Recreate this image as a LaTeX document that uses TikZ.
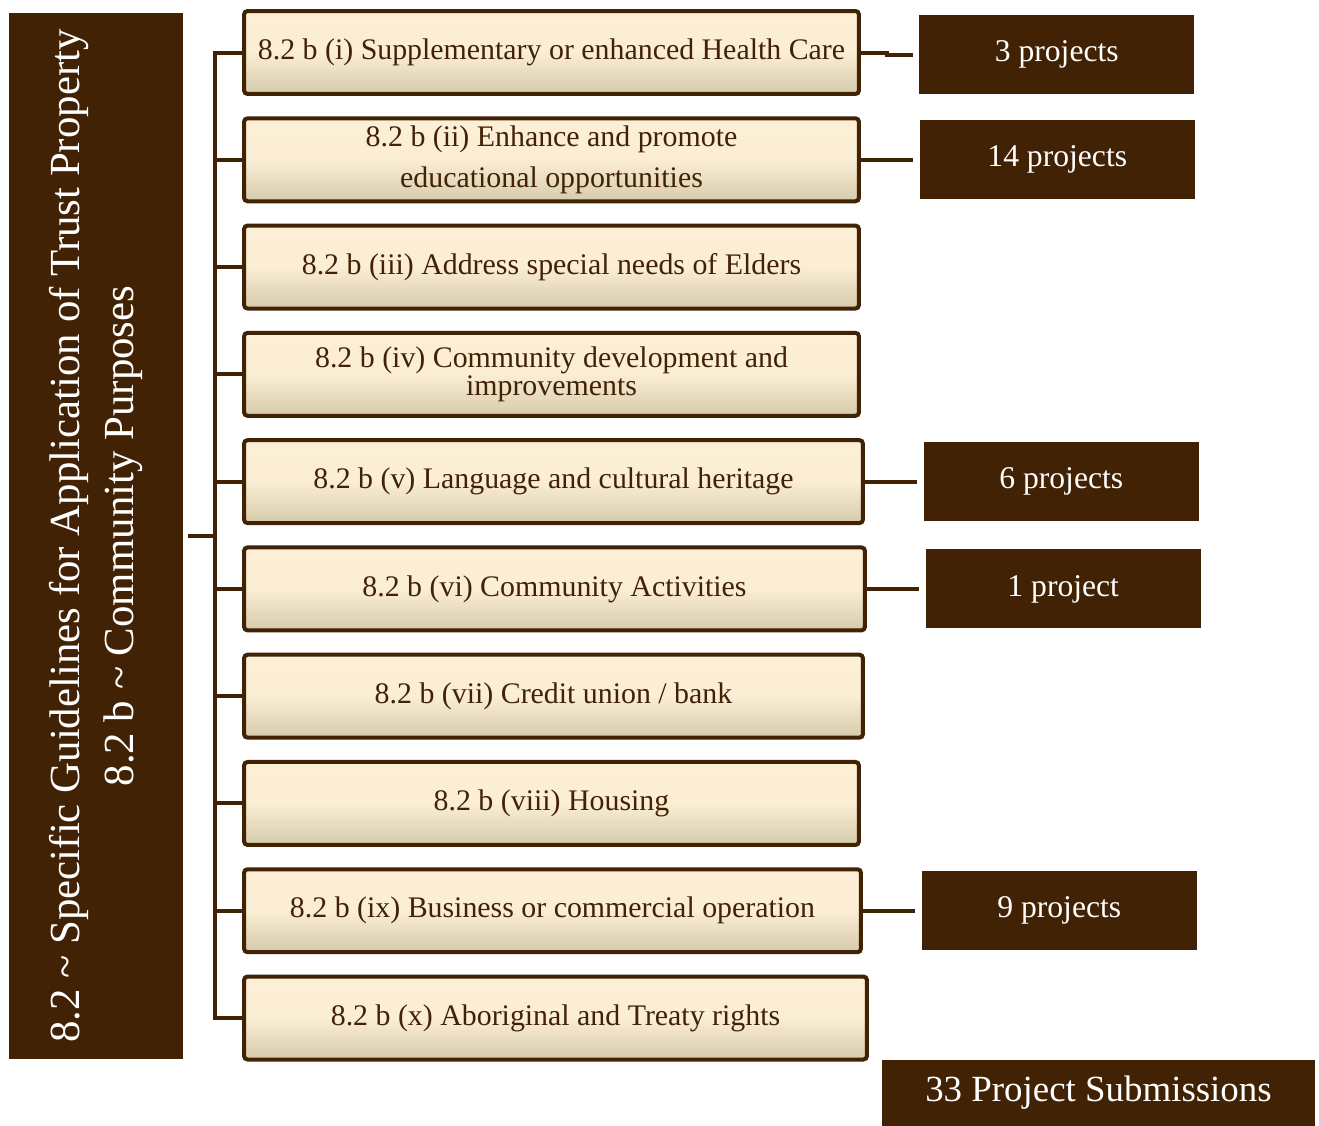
\documentclass[tikz,border=0pt]{standalone}
\usepackage{fontspec}
\setmainfont{Liberation Serif}
\usetikzlibrary{positioning}
\definecolor{bark}{RGB}{66,34,4}
\definecolor{cream}{RGB}{252,239,214}
\definecolor{sand}{RGB}{214,202,172}
\tikzset{
  guide/.style={draw=bark, line width=0.08cm, rounded corners=2pt, top color=cream, bottom color=sand, middle color=cream!96!sand,
    minimum width=12.3cm, minimum height=1.66cm, text=bark, align=center, font=\fontsize{17}{20}\selectfont},
  count/.style={fill=bark, text=white, minimum width=5.5cm, minimum height=1.58cm, font=\fontsize{18}{22}\selectfont},
  link/.style={draw=bark, line width=0.08cm},
}

\begin{document}
\begin{tikzpicture}[x=0.02cm, y=-0.02cm]
  \useasboundingbox (0,0) rectangle (1319,1126);
  % Title bar on the left
  \node[fill=bark, text=white, rotate=90, minimum width=20.92cm, minimum height=3.48cm, align=center,
    font=\fontsize{24.4}{30.7}\selectfont] (title) at (96,536)
    {8.2 \textasciitilde{} Specific Guidelines for Application of Trust Property\\8.2 b \textasciitilde{} Community Purposes};
  % Purposes
  \node[guide] (b1) at (551.5,52.5) {8.2 b (i) Supplementary or enhanced Health Care};
  \node[guide, below=0.406cm of b1.south west, anchor=north west] (b2) {8.2 b (ii) Enhance and promote\\[3pt]educational opportunities};
  \node[guide, below=0.406cm of b2.south west, anchor=north west] (b3) {8.2 b (iii) Address special needs of Elders};
  \node[guide, below=0.406cm of b3.south west, anchor=north west] (b4) {8.2 b (iv) Community development and\\[-4pt]improvements};
  \node[guide, minimum width=12.38cm, below=0.406cm of b4.south west, anchor=north west] (b5) {8.2 b (v) Language and cultural heritage};
  \node[guide, minimum width=12.42cm, below=0.406cm of b5.south west, anchor=north west] (b6) {8.2 b (vi) Community Activities};
  \node[guide, minimum width=12.38cm, below=0.406cm of b6.south west, anchor=north west] (b7) {8.2 b (vii) Credit union / bank};
  \node[guide, below=0.406cm of b7.south west, anchor=north west] (b8) {8.2 b (viii) Housing};
  \node[guide, minimum width=12.34cm, below=0.406cm of b8.south west, anchor=north west] (b9) {8.2 b (ix) Business or commercial operation};
  \node[guide, minimum width=12.46cm, below=0.406cm of b9.south west, anchor=north west] (b10) {8.2 b (x) Aboriginal and Treaty rights};
  % Project counts
  \node[count, right=1.16cm of b1, yshift=-0.04cm] (p1) {3 projects};
  \node[count, right=1.17cm of b2] (p2) {14 projects};
  \node[count, right=1.17cm of b5] (p5) {6 projects};
  \node[count, right=1.17cm of b6] (p6) {1 project};
  \node[count, right=1.17cm of b9] (p9) {9 projects};
  \node[count, minimum width=8.66cm, minimum height=1.32cm, font=\fontsize{21}{25}\selectfont] (total) at (1098.5,1093) {33 Project Submissions};
  % Tree lines
  \coordinate (hub) at (215,536);
  \draw[link] ([xshift=0.1cm]title.south) -- (hub);
  \foreach \k in {1,...,10}
    \draw[link] (hub) |- (b\k.west);
  \draw[link, shorten >=0.12cm] (b1.east) -- ++(0.52cm,0) |- (p1.west);
  \draw[link, shorten >=0.12cm] (b2.east) -- (p2.west);
  \draw[link, shorten >=0.12cm] (b5.east) -- (p5.west);
  \draw[link, shorten >=0.12cm] (b6.east) -- (p6.west);
  \draw[link, shorten >=0.12cm] (b9.east) -- (p9.west);
\end{tikzpicture}
\end{document}
